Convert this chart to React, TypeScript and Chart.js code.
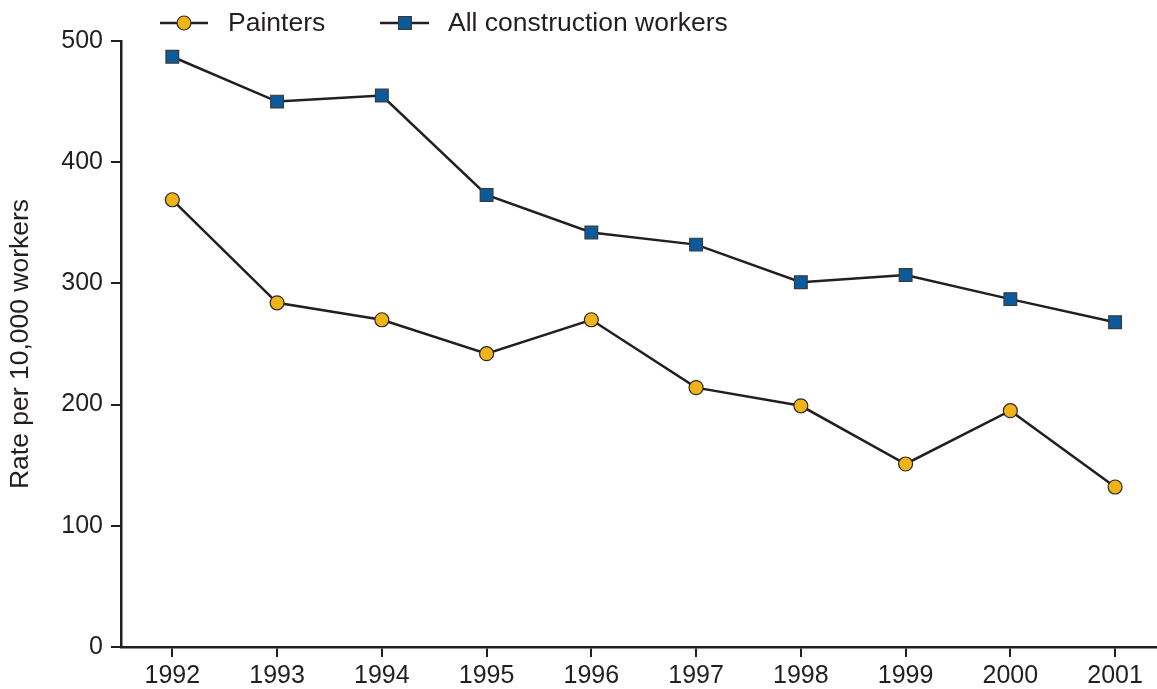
import React, { useEffect, useRef } from "react";
import { Chart, registerables } from "chart.js";

Chart.register(...registerables);

const years = [1992, 1993, 1994, 1995, 1996, 1997, 1998, 1999, 2000, 2001];
const painters = [369, 284, 270, 242, 270, 214, 199, 151, 195, 132];
const allConstruction = [487, 450, 455, 373, 342, 332, 301, 307, 287, 268];
const yTicks = [0, 100, 200, 300, 400, 500];
const seriesNames = ["Painters", "All construction workers"];

const INK = "#231f20";
const FONT = "'Liberation Sans', Arial, Helvetica, sans-serif";

const legendPlugin = {
  id: "customLegend",
  afterDraw(chart: any) {
    const ctx = chart.ctx;
    const items = [
      { x0: 160, x1: 208, mx: 184, tx: 228, ds: 0 },
      { x0: 380, x1: 429, mx: 405, tx: 448, ds: 1 },
    ];
    const y = 23;
    ctx.save();
    items.forEach((it) => {
      const ds = chart.data.datasets[it.ds];
      ctx.strokeStyle = INK;
      ctx.lineWidth = 2.5;
      ctx.beginPath();
      ctx.moveTo(it.x0, y);
      ctx.lineTo(it.x1, y);
      ctx.stroke();
      ctx.fillStyle = ds.pointBackgroundColor;
      ctx.strokeStyle = ds.pointBorderColor;
      ctx.lineWidth = ds.pointBorderWidth;
      ctx.beginPath();
      if (ds.pointStyle === "rect") {
        const s = ds.pointRadius * Math.SQRT1_2;
        ctx.rect(it.mx - s, y - s, 2 * s, 2 * s);
      } else {
        ctx.arc(it.mx, y, ds.pointRadius, 0, Math.PI * 2);
      }
      ctx.fill();
      ctx.stroke();
      ctx.fillStyle = INK;
      ctx.font = `26.5px ${FONT}`;
      ctx.textBaseline = "middle";
      ctx.textAlign = "left";
      ctx.fillText(ds.label, it.tx, y + 1);
    });
    ctx.restore();
  },
};

export default function App() {
  const ref = useRef<HTMLCanvasElement | null>(null);
  useEffect(() => {
    if (!ref.current) return;
    const chart = new Chart(ref.current, {
      type: "line",
      data: {
        datasets: [
          {
            label: seriesNames[0],
            data: years.map((x, i) => ({ x, y: painters[i] })),
            borderColor: INK,
            borderWidth: 2.5,
            pointStyle: "circle",
            pointRadius: 7,
            pointBackgroundColor: "#f0b418",
            pointBorderColor: "#2b2b2b",
            pointBorderWidth: 1.2,
            tension: 0,
          },
          {
            label: seriesNames[1],
            data: years.map((x, i) => ({ x, y: allConstruction[i] })),
            borderColor: INK,
            borderWidth: 2.5,
            pointStyle: "rect",
            pointRadius: 9,
            pointBackgroundColor: "#0a5a9c",
            pointBorderColor: "#3a3a3a",
            pointBorderWidth: 1.2,
            tension: 0,
          },
        ],
      },
      options: {
        responsive: false,
        animation: false,
        layout: { autoPadding: false, padding: { top: 41, right: 0, left: 0, bottom: 0 } },
        plugins: { legend: { display: false }, tooltip: { enabled: false } },
        scales: {
          x: {
            type: "linear",
            min: 1991.51,
            max: 2001.4,
            afterBuildTicks: (scale: any) => {
              scale.ticks = years.map((v) => ({ value: v }));
            },
            afterFit: (scale: any) => {
              scale.height = 42;
              scale.paddingLeft = 0;
              scale.paddingRight = 0;
            },
            grid: {
              drawOnChartArea: false,
              drawTicks: true,
              tickLength: 10,
              color: INK,
              lineWidth: 2,
            },
            border: { display: true, color: INK, width: 2.5 },
            ticks: {
              autoSkip: false,
              maxRotation: 0,
              padding: 4,
              color: INK,
              font: { family: FONT, size: 25 },
              callback: (v: any) => String(v),
            },
          },
          y: {
            type: "linear",
            min: 0,
            max: 500,
            afterBuildTicks: (scale: any) => {
              scale.ticks = yTicks.map((v) => ({ value: v }));
            },
            afterFit: (scale: any) => {
              scale.width = 121;
              scale.paddingTop = 0;
              scale.paddingBottom = 0;
            },
            grid: {
              drawOnChartArea: false,
              drawTicks: true,
              tickLength: 10,
              color: INK,
              lineWidth: 2,
            },
            border: { display: true, color: INK, width: 2.5 },
            ticks: {
              padding: 8,
              color: INK,
              font: { family: FONT, size: 25 },
              callback: (v: any) => String(v),
            },
            title: {
              display: true,
              text: "Rate per 10,000 workers",
              color: INK,
              font: { family: FONT, size: 26.5 },
              padding: { top: 5, bottom: 0 },
            },
          },
        },
      },
      plugins: [legendPlugin],
    });
    return () => chart.destroy();
  }, []);
  return (
    <div style={{ position: "fixed", left: 0, top: 0, width: 1157, height: 689, background: "#fff" }}>
      <canvas ref={ref} width={1157} height={689} style={{ display: "block" }} />
    </div>
  );
}
